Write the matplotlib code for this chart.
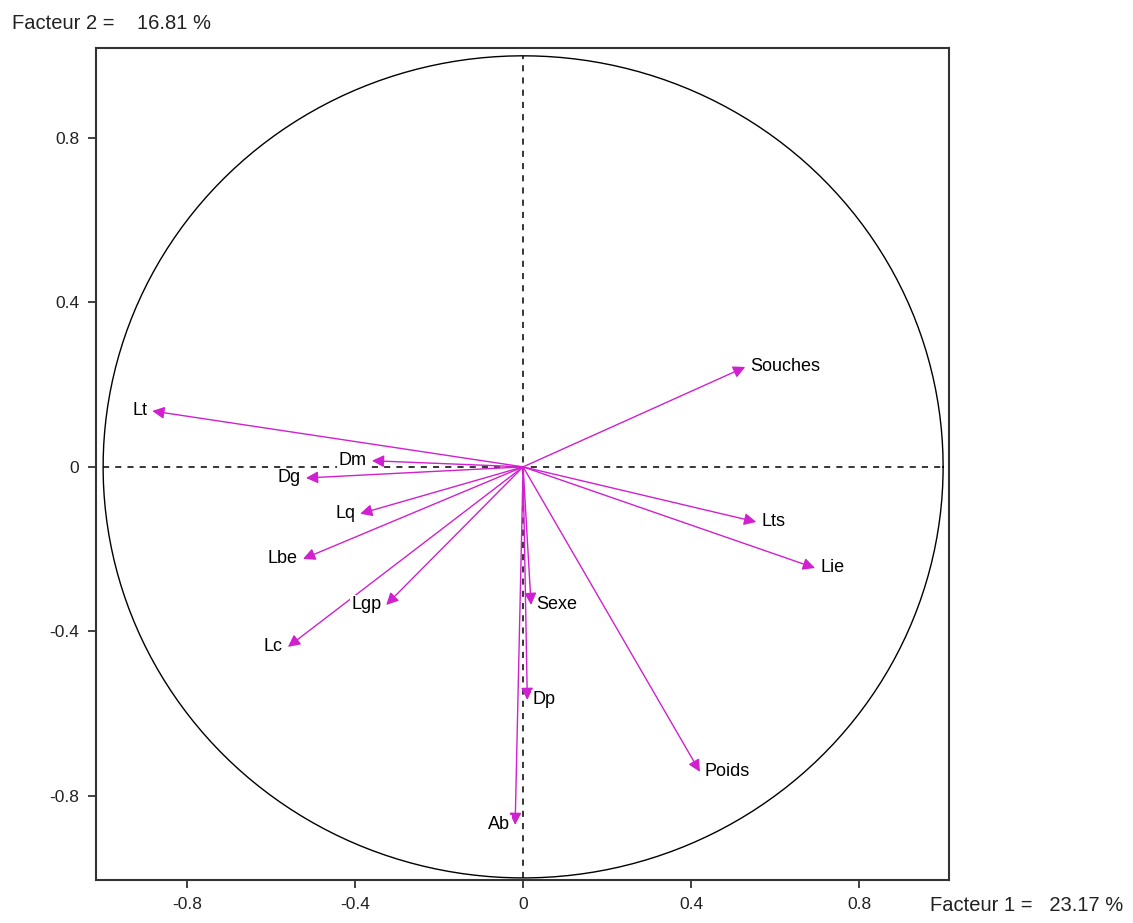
import matplotlib.pyplot as plt
import numpy as np

plt.rcParams['font.family'] = ['Liberation Sans', 'DejaVu Sans']

# correlation circle: variable coordinates on factors 1 and 2
variables = ["Souches", "Lt", "Dm", "Dg", "Lq", "Lbe", "Lgp", "Lc",
             "Sexe", "Dp", "Ab", "Poids", "Lts", "Lie"]
f1 = [0.529, -0.883, -0.360, -0.517, -0.388, -0.524, -0.326, -0.560,
      0.019, 0.010, -0.019, 0.421, 0.555, 0.695]
f2 = [0.243, 0.136, 0.015, -0.027, -0.114, -0.224, -0.336, -0.438,
      -0.336, -0.567, -0.871, -0.742, -0.134, -0.246]
inertia1 = 23.17
inertia2 = 16.81
ticks = [-0.8, -0.4, 0, 0.4, 0.8]

arrow_col = "#d020d0"

fig = plt.figure(figsize=(11.33, 9.23), dpi=100)
ax = fig.add_axes([0.0847, 0.0466, 0.7529, 0.9014])

t = np.linspace(0, 2 * np.pi, 400)
ax.plot(np.cos(t), np.sin(t), color="black", lw=1)
ax.plot([-1, 1], [0, 0], color="black", lw=1.1, ls=(0, (4, 4)), zorder=1)
ax.plot([0, 0], [-1, 1], color="black", lw=1.1, ls=(0, (4, 4)), zorder=1)

for name, x, y in zip(variables, f1, f2):
    ax.annotate("", xy=(x, y), xytext=(0, 0),
                arrowprops=dict(arrowstyle="-|>", color=arrow_col, lw=1,
                                mutation_scale=18, shrinkA=0, shrinkB=0),
                zorder=3)
    if x < 0:
        ax.text(x - 0.012, y, name, ha="right", va="center", fontsize=13,
                bbox=dict(facecolor="white", edgecolor="none", pad=1), zorder=4)
    else:
        ax.text(x + 0.012, y, name, ha="left", va="center", fontsize=13,
                bbox=dict(facecolor="white", edgecolor="none", pad=1), zorder=4)

ax.set_xlim(-1.017, 1.014)
ax.set_ylim(-1.005, 1.019)
ax.set_xticks(ticks)
ax.set_yticks(ticks)
ax.set_xticklabels(["-0.8", "-0.4", "0", "0.4", "0.8"])
ax.set_yticklabels(["-0.8", "-0.4", "0", "0.4", "0.8"])
ax.tick_params(direction="out", length=6, width=1.2, labelsize=12.5,
               colors="#222222", pad=6)
for s in ax.spines.values():
    s.set_linewidth(1.5)
    s.set_color("#333333")

fig.text(0.011, 0.975, "Facteur 2 =    %.2f %%" % inertia2, fontsize=14.5,
         ha="left", va="center", color="#222222")
fig.text(0.821, 0.019, "Facteur 1 =   %.2f %%" % inertia1, fontsize=14.5,
         ha="left", va="center", color="#222222")

fig.savefig("out.png", dpi=100, facecolor="white")
